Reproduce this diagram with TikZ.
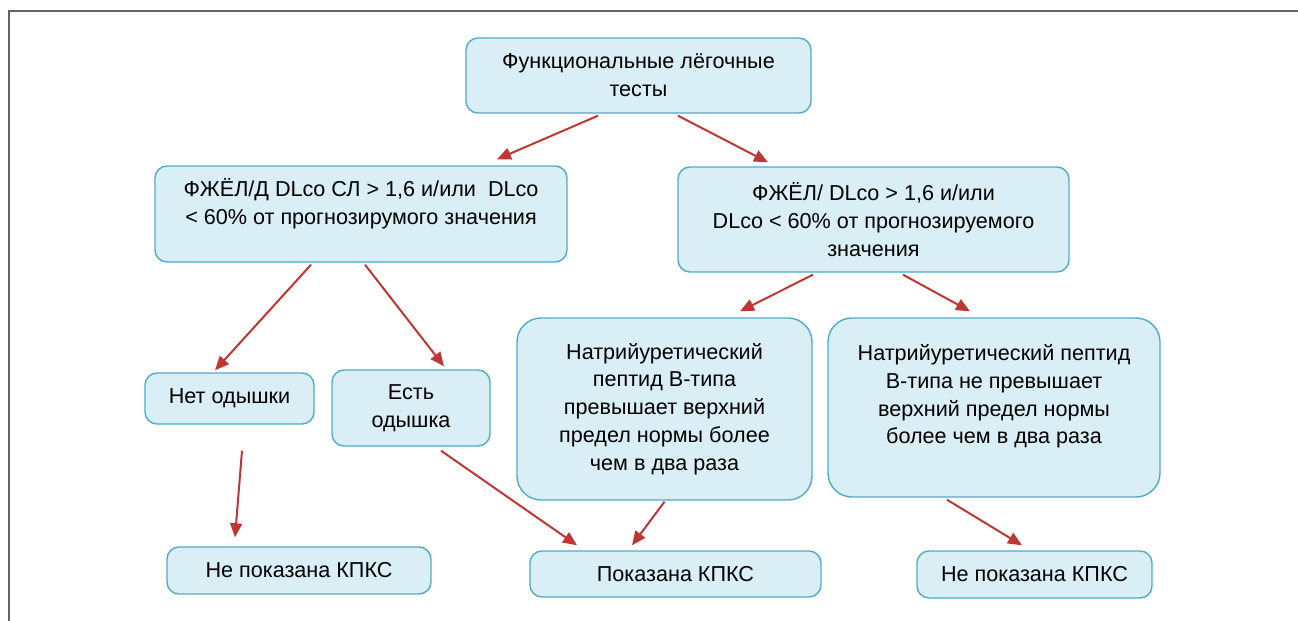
\documentclass[tikz,border=0pt]{standalone}
\usepackage{fontspec}
\setmainfont{Liberation Sans}
\usetikzlibrary{arrows.meta,calc}
\definecolor{boxfill}{RGB}{218,238,245}
\definecolor{boxline}{RGB}{80,172,200}
\definecolor{arrred}{RGB}{190,55,50}
\definecolor{framegray}{RGB}{100,100,100}
\begin{document}
\begin{tikzpicture}[x=0.5pt,y=-0.5pt,
		box/.style={draw=boxline,line width=0.7pt,fill=boxfill,rounded corners=6pt,align=center,inner sep=0pt,font=\fontsize{10.8}{13.9}\selectfont},
		bigbox/.style={box,rounded corners=12pt},
		txt/.style={align=center,font=\fontsize{10.8}{13.9}\selectfont},
		arr/.style={arrred,line width=1pt,-{Triangle[length=7pt,width=6pt]}}]
		% Frame
		\useasboundingbox (0,0) rectangle (1298,621);
		\draw [framegray,line width=1pt] (9,621) -- (9,11) -- (1298,11);
		% Top
		\node [box,minimum width=172.5pt,minimum height=37.5pt] (tests) at (638.5,75.5) {Функциональные лёгочные\\тесты};
		% Criteria
		\node [box,minimum width=206pt,minimum height=48pt] (lcrit) at (361,214) {};
		\node [txt] at ($(lcrit.center)+(0,-10)$) {ФЖЁЛ/Д DLco СЛ > 1,6 и/или\ \ DLco\\< 60\% от прогнозирумого значения};
		\node [box,minimum width=195.5pt,minimum height=52.5pt] (rcrit) at (873.5,219.5) {ФЖЁЛ/ DLco > 1,6 и/или\\DLco < 60\% от прогнозируемого\\значения};
		% Dyspnea / BNP
		\node [box,minimum width=84.5pt,minimum height=25.5pt] (nodysp) at (229.5,398.5) {Нет одышки};
		\node [box,minimum width=79pt,minimum height=38pt] (dysp) at (411,408) {Есть\\одышка};
		\node [bigbox,minimum width=147.5pt,minimum height=91pt] (bnphigh) at (664.5,409) {Натрийуретический\\пептид B-типа\\превышает верхний\\предел нормы более\\чем в два раза};
		\node [bigbox,minimum width=166pt,minimum height=89.5pt] (bnplow) at (994,407.5) {};
		\node [txt] at ($(bnplow.center)+(0,-11)$) {Натрийуретический пептид\\B-типа не превышает\\верхний предел нормы\\более чем в два раза};
		% Outcome
		\node [box,minimum width=132pt,minimum height=23.5pt] (nocpetl) at (299,570.5) {Не показана КПКС};
		\node [box,minimum width=145.5pt,minimum height=23pt] (cpet) at (675.5,574) {Показана КПКС};
		\node [box,minimum width=117.5pt,minimum height=23.5pt] (nocpetr) at (1034.5,574.5) {Не показана КПКС};
		% Arrows
		\draw [arr] ($(tests.south)+(-40.5,2)$) -- ($(lcrit.north)+(136,-6)$);
		\draw [arr] ($(tests.south)+(39.5,2)$) -- ($(rcrit.north)+(-105.5,-4)$);
		\draw [arr] ($(lcrit.south)+(-50,2)$) -- ($(nodysp.north)+(-14.5,-2)$);
		\draw [arr] ($(lcrit.south)+(4,2)$) -- ($(dysp.north)+(33,-3)$);
		\draw [arr] ($(nodysp.south)+(12.5,26)$) -- ($(nocpetl.north)+(-64,-9)$);
		\draw [arr] ($(dysp.south)+(30,4)$) -- ($(cpet.north)+(-98.5,-5)$);
		\draw [arr] ($(bnphigh.south)+(0,1)$) -- ($(cpet.north)+(-43.5,-5)$);
		\draw [arr] ($(rcrit.south)+(-60.5,2)$) -- ($(bnphigh.north)+(75.5,-6)$);
		\draw [arr] ($(rcrit.south)+(29.5,2)$) -- ($(bnplow.north)+(-24,-6)$);
		\draw [arr] ($(bnplow.south)+(-47,2)$) -- ($(nocpetr.north)+(-12.5,-5)$);
\end{tikzpicture}
\end{document}
